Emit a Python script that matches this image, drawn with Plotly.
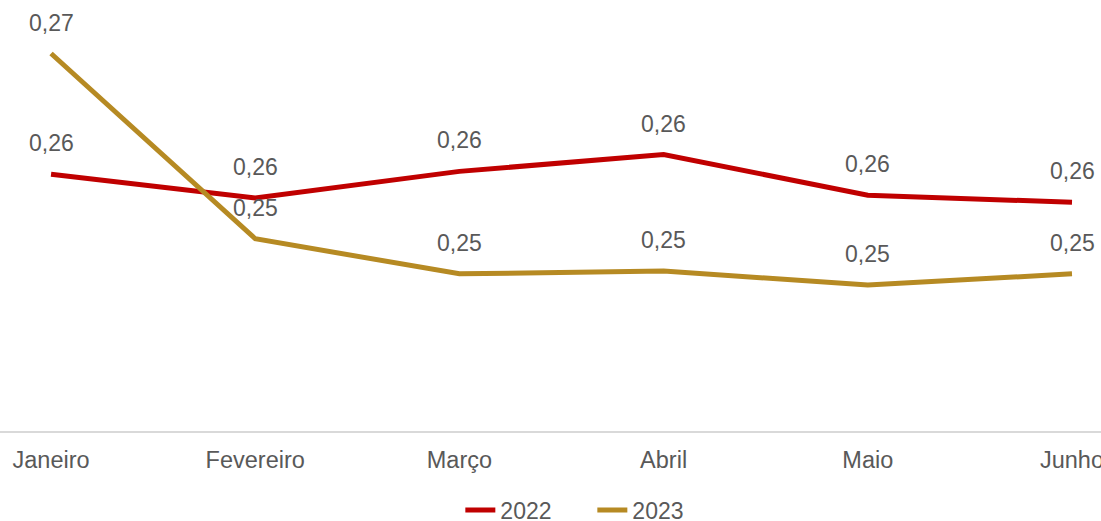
import plotly.graph_objects as go

meses = ["Janeiro", "Fevereiro", "Março", "Abril", "Maio", "Junho"]
v2022 = [0.2583, 0.2566, 0.2585, 0.2597, 0.2568, 0.2563]
v2023 = [0.2669, 0.2537, 0.2512, 0.2514, 0.2504, 0.2512]
rotulos2022 = ["0,26", "0,26", "0,26", "0,26", "0,26", "0,26"]
rotulos2023 = ["0,27", "0,25", "0,25", "0,25", "0,25", "0,25"]

FONTE = "Liberation Sans, Arial, sans-serif"
CINZA = "#595959"

fig = go.Figure()
fig.add_trace(go.Scatter(x=meses, y=v2022, name="2022", mode="lines",
                         line=dict(color="#C00000", width=5)))
fig.add_trace(go.Scatter(x=meses, y=v2023, name="2023", mode="lines",
                         line=dict(color="#B68A23", width=5)))

# rótulos de dados acima dos pontos
for serie, rotulos in [(v2022, rotulos2022), (v2023, rotulos2023)]:
    for m, v, t in zip(meses, serie, rotulos):
        fig.add_annotation(x=m, y=v, text=t, showarrow=False,
                           yanchor="middle", yshift=31,
                           font=dict(family=FONTE, size=23, color=CINZA))

fig.update_layout(
    width=1101, height=521,
    margin=dict(l=0, r=0, t=10, b=90, autoexpand=False),
    plot_bgcolor="white", paper_bgcolor="white",
    font=dict(family=FONTE, size=23, color=CINZA),
    showlegend=True,
    legend=dict(orientation="h", x=0.538, xanchor="center", y=-0.188, yanchor="middle",
                font=dict(size=23, color=CINZA), tracegroupgap=0,
                entrywidth=87),
)
fig.update_xaxes(type="category", range=[-0.25, 5.142], showgrid=False,
                 showline=True, linecolor="#D9D9D9", linewidth=2,
                 ticks="outside", ticklen=7, tickcolor="rgba(0,0,0,0)",
                 tickfont=dict(size=23.5, color=CINZA))
fig.update_yaxes(range=[0.24, 0.27], showgrid=False, showticklabels=False,
                 zeroline=False, showline=False)

fig.write_html("out.html", config={"displayModeBar": False},
               post_script="document.body.style.margin='0';")
